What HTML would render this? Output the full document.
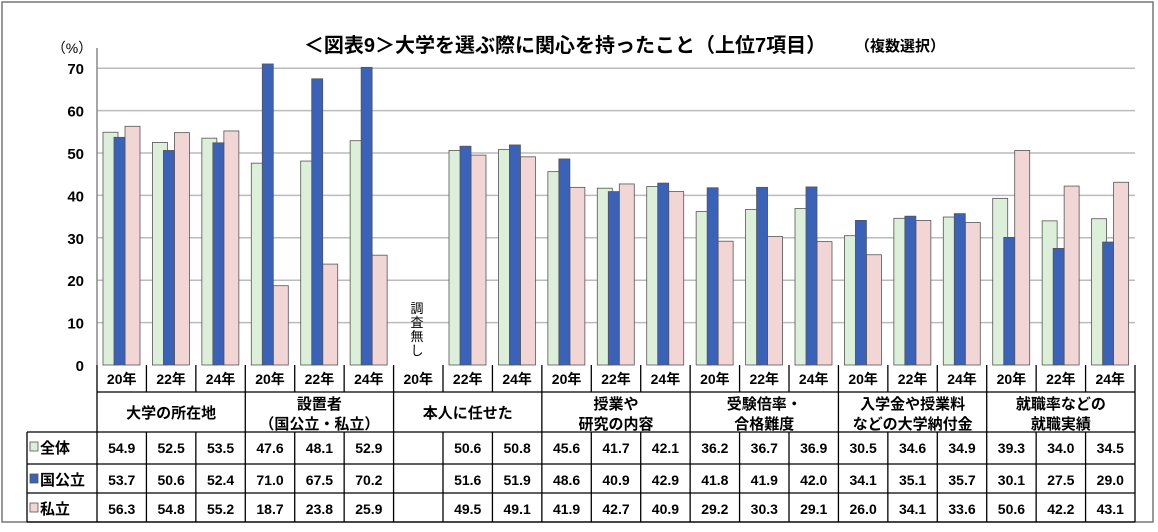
<!DOCTYPE html>
<html><head><meta charset="utf-8">
<style>
body{margin:0;background:#fff;font-family:"Liberation Sans","Noto Sans CJK JP",sans-serif;}
svg text{font-family:"Liberation Sans","Noto Sans CJK JP",sans-serif;fill:#000;}
</style></head>
<body>
<svg width="1158" height="527" viewBox="0 0 1158 527">
<rect x="2" y="2" width="1151" height="520" fill="#fff" stroke="#777" stroke-width="1.5"/>
<text x="565" y="52" font-size="20" font-weight="bold" text-anchor="middle">＜図表9＞大学を選ぶ際に関心を持ったこと（上位7項目）</text>
<text x="900" y="51" font-size="15" font-weight="bold" text-anchor="middle">（複数選択）</text>
<text x="72" y="53" font-size="14" text-anchor="middle">（%）</text>
<g id="grid"></g><g id="bars"></g><g id="table"></g>
</svg>
<script>
const categories=["大学の所在地","設置者|（国公立・私立）","本人に任せた","授業や|研究の内容","受験倍率・|合格難度","入学金や授業料|などの大学納付金","就職率などの|就職実績"];
const years=["20年","22年","24年"];
const seriesNames=["全体","国公立","私立"];
const allValues=[54.9,52.5,53.5,47.6,48.1,52.9,null,50.6,50.8,45.6,41.7,42.1,36.2,36.7,36.9,30.5,34.6,34.9,39.3,34.0,34.5];
const nationalValues=[53.7,50.6,52.4,71.0,67.5,70.2,null,51.6,51.9,48.6,40.9,42.9,41.8,41.9,42.0,34.1,35.1,35.7,30.1,27.5,29.0];
const privateValues=[56.3,54.8,55.2,18.7,23.8,25.9,null,49.5,49.1,41.9,42.7,40.9,29.2,30.3,29.1,26.0,34.1,33.6,50.6,42.2,43.1];
const yTicks=[0,10,20,30,40,50,60,70];
const NS="http://www.w3.org/2000/svg";
const X0=97,X1=1135,Y0=365,PX=4.24;
const colW=(X1-X0)/21;
const y=v=>Y0-v*PX;
const xc=i=>X0+i*colW;
function mk(tag,attrs,parent,txt){const e=document.createElementNS(NS,tag);for(const k in attrs)e.setAttribute(k,attrs[k]);if(txt!=null)e.textContent=txt;parent.appendChild(e);return e;}
const grid=document.getElementById('grid'),bars=document.getElementById('bars'),tbl=document.getElementById('table');
yTicks.forEach(t=>{
 if(t>0){const l=mk('line',{x1:X0,x2:X1,y1:y(t),y2:y(t),stroke:'#bbb','stroke-width':1.5},grid);
 
 }
 const tx=mk('text',{x:84,y:y(t)+6,'font-size':15,'font-weight':'bold','text-anchor':'end'},grid,String(t));
 
 
});
const ax=mk('line',{x1:X0,x2:X0,y1:48,y2:Y0,stroke:'#888','stroke-width':1.5},grid);


const series=[allValues,nationalValues,privateValues];
const fills=["#dcefd8","#3a62b8","#f2d6d6"];
const offs=[6,17,28],wids=[15,11,15];
const order=[0,2,1];
order.forEach(s=>{
 series[s].forEach((v,i)=>{
  if(v==null)return;
  const r=mk('rect',{x:xc(i)+offs[s],y:y(v),width:wids[s],height:v*PX,fill:fills[s],stroke:'#555','stroke-width':0.8},bars);
  
  
 });
});
const nt=mk('text',{x:417,y:313,'font-size':13,'text-anchor':'middle'},bars);


"調査無し".split('').forEach((c,k)=>{mk('tspan',{x:417,dy:k?14:0},nt,c);});
const R=[365,392,432,464,493,522];
const ln=(x1,y1,x2,y2,n)=>{const l=mk('line',{x1,y1,x2,y2,stroke:'#000','stroke-width':1.3},tbl);};
ln(X0,365,X0,522,'table-left');ln(X1,365,X1,522,'table-right');
ln(27,432,27,522,'label-col-left');
R.slice(1).forEach((r,k)=>ln(k>=1?27:X0,r,X1,r,'row-line-'+k));
for(let i=1;i<21;i++){
 if(i%3==0)ln(xc(i),365,xc(i),522,'group-line-'+i);
 else{ln(xc(i),365,xc(i),392,'year-line-'+i);ln(xc(i),432,xc(i),522,'cell-line-'+i);}
}
for(let i=0;i<21;i++){
 const t=mk('text',{x:xc(i)+colW/2,y:384,'font-size':14,'font-weight':'bold','text-anchor':'middle'},tbl,years[i%3]);
 
 
 series.forEach((arr,s)=>{
  if(arr[i]==null)return;
  const c=mk('text',{x:xc(i)+colW/2,y:R[2+s]+21,'font-size':14,'font-weight':'bold','text-anchor':'middle'},tbl,arr[i].toFixed(1));
  
  
 });
}
categories.forEach((c,g)=>{
 const parts=c.split('|');const cx=xc(g*3)+colW*1.5;
 parts.forEach((p,k)=>{
  const t=mk('text',{x:cx,y:(parts.length==1?418:409+k*20),'font-size':15,'font-weight':'bold','text-anchor':'middle'},tbl,p);
  
  
 });
});
seriesNames.forEach((n,s)=>{
 const sw=mk('rect',{x:30,y:R[2+s]+10,width:8,height:9,fill:fills[s],stroke:'#555','stroke-width':0.8},tbl);
 
 
 const t=mk('text',{x:40,y:R[2+s]+21,'font-size':15,'font-weight':'bold'},tbl,n);
 
 
});
</script>
</body></html>
